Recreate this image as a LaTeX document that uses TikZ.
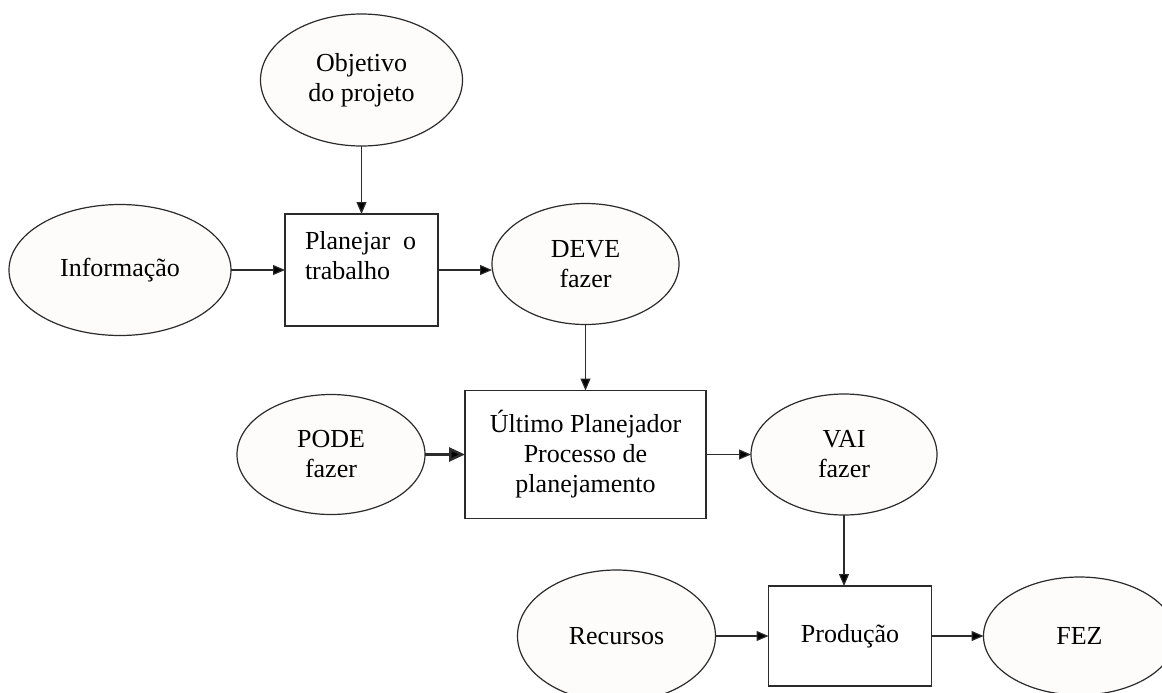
\documentclass[tikz,border=0pt]{standalone}
\usepackage{fontspec}
\setmainfont{Liberation Serif}
\usepackage{xcolor}
\definecolor{ovalfill}{HTML}{FDFCFB}
\definecolor{linecol}{HTML}{2B2B2B}
\usepackage{tikz}
\usetikzlibrary{positioning}
\usetikzlibrary{shapes.geometric}
\usetikzlibrary{arrows.meta}

\begin{document}
\begin{tikzpicture}[node distance=27pt,
	every node/.style={inner sep=0pt,outer sep=0pt,font=\fontsize{13}{15}\selectfont,align=center},
	oval/.style={ellipse,draw=linecol,line width=0.6pt,fill=ovalfill},
	box/.style={rectangle,draw=linecol,line width=0.6pt,fill=white},
	>={Triangle[length=6pt,width=5pt]}]
	\useasboundingbox (0,0) rectangle (581pt,-346pt);
	\node (info) [oval,minimum width=111pt,minimum height=65.5pt] at (60pt,-135pt) {Informação};
	\node (plan) [box,minimum width=76.5pt,minimum height=56pt,right= of info] {};
	\node (plantxt) [anchor=north west,align=left] at ([xshift=10pt,yshift=-8.5pt]plan.north west) {Planejar\ \ o\\trabalho};
	\node (obj) [oval,minimum width=101pt,minimum height=66pt,above=34pt of plan] {Objetivo\\do projeto};
	\node (deve) [oval,minimum width=93.5pt,minimum height=60.5pt,right= of plan,yshift=3pt] {DEVE\\fazer};
	\node (ult) [box,minimum width=120.5pt,minimum height=64pt,below=33pt of deve] {Último Planejador\\Processo de\\planejamento};
	\node (pode) [oval,minimum width=94pt,minimum height=60pt,left=20pt of ult] {PODE\\fazer};
	\node (vai) [oval,minimum width=93pt,minimum height=60.5pt,right=22.5pt of ult] {VAI\\fazer};
	\node (prod) [box,minimum width=81.5pt,minimum height=50pt,below=35.5pt of vai,xshift=3pt] {Produção};
	\node (rec) [oval,minimum width=99pt,minimum height=66pt,left=26.5pt of prod] {Recursos};
	\node (fez) [oval,minimum width=96pt,minimum height=59pt,right=26pt of prod] {FEZ};
	\path[->,draw=linecol,line width=0.6pt]
		(obj) edge (plan)
		(info) edge (plan)
		(plan) edge (plan -| deve.west)
		(deve) edge (ult)
		(ult) edge (vai)
		(vai) edge (vai |- prod.north)
		(rec) edge (prod)
		(prod) edge (fez);
	\path[->,draw=linecol,line width=1.3pt,>={Triangle[length=8pt,width=7pt]}]
		(pode) edge (ult);
\end{tikzpicture}
\end{document}
